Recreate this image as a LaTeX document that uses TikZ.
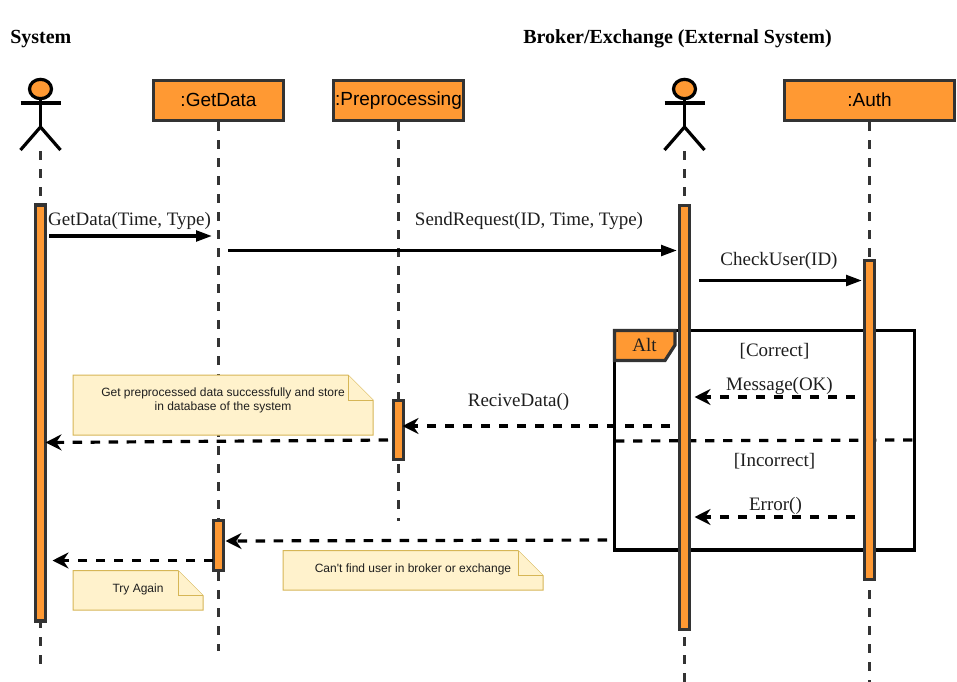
\documentclass[tikz,border=0pt]{standalone}
\usepackage{fontspec}
\setmainfont{Liberation Serif}
\newfontfamily\notefont{Liberation Sans}
\definecolor{orange}{RGB}{255,153,51}
\definecolor{gris}{RGB}{51,51,51}
\definecolor{encre}{RGB}{30,30,30}
\definecolor{noir}{RGB}{0,0,0}
\definecolor{jaune}{RGB}{255,242,204}
\definecolor{ocre}{RGB}{214,182,86}
\usetikzlibrary{arrows.meta,positioning,shapes.geometric}
\tikzset{
	lifebox/.style={draw=gris,fill=orange,line width=2.4pt,minimum height=30pt,inner sep=0pt,font=\notefont\fontsize{14.25}{16}\selectfont},
	lifeline/.style={draw=gris,line width=2.4pt,dash pattern=on 6.5pt off 7pt},
	activebar/.style={draw=gris,fill=orange,line width=2.4pt,minimum width=7.5pt,inner sep=0pt},
	callmsg/.style={draw=noir,line width=2.4pt,-{Triangle[length=12pt,width=8pt]}},
	backmsg/.style={draw=noir,line width=2.4pt,dash pattern=on 7pt off 6.5pt,-{Stealth[length=12pt,width=12pt,inset=4pt]}},
	msglabel/.style={font=\fontsize{14.25}{16}\selectfont,text=encre,inner sep=0pt},
	titlelabel/.style={font=\bfseries\fontsize{15}{18}\selectfont,text=noir,inner sep=0pt},
	notelabel/.style={font=\notefont\fontsize{9}{10.5}\selectfont,text=encre,inner sep=0pt,align=center},
	notesheet/.style={draw=ocre,fill=jaune,line width=0.75pt,line join=miter},
	actorline/.style={draw=noir,line width=2.4pt},
}
% x1, y1, x2, y2 of a folded note
\newcommand{\notepaper}[4]{
	\draw[notesheet] (#1,#2)--({#3-25},#2)--(#3,{#2+25})--(#3,#4)--(#1,#4)--cycle;
	\draw[notesheet] ({#3-25},#2)--({#3-25},{#2+25})--(#3,{#2+25});
}
% name, x
\newcommand{\stickman}[2]{
	\node[draw=noir,fill=orange,line width=2.4pt,ellipse,minimum width=16.5pt,minimum height=14.5pt,inner sep=0pt] (#1head) at (#2,89) {};
	\draw[actorline] ({#2-20},103)--({#2+20},103);
	\draw[actorline] (#1head)--(#2,127) coordinate (#1hip);
	\draw[actorline] ({#2-20},150)--(#1hip)--({#2+20},150);
	\coordinate (#1foot) at (#2,151);
}

\begin{document}
\begin{tikzpicture}[x=0.75pt,y=-0.75pt]
	\useasboundingbox (0,0) rectangle (957,682);
	
	\node[titlelabel,anchor=west] (titlesystem) at (10,39) {System};
	\node[titlelabel,anchor=west] (titlebroker) at (523,39) {Broker/Exchange (External System)};
	
	\stickman{system}{40.5}
	\stickman{broker}{684.5}
	\node[lifebox,minimum width=97.5pt] (getdata) at (218.5,100.5) {\raisebox{1pt}{:GetData}};
	\node[lifebox,minimum width=97.5pt] (preprocessing) at (398.5,100.5) {\raisebox{0.5pt}{:Preprocessing}};
	\node[lifebox,minimum width=127pt] (auth) at (869.5,100.5) {\raisebox{1pt}{:Auth}};
	
	\coordinate (systemend) at (40.5,665);
	\coordinate (getdataend) at (218.5,651);
	\coordinate (preprocessingend) at (398.5,521);
	\coordinate (brokerend) at (684.5,682);
	\coordinate (authend) at (869.5,682);
	\draw[lifeline] (systemfoot)--(systemend);
	\draw[lifeline] (getdata)--(getdataend);
	\draw[lifeline] (preprocessing)--(preprocessingend);
	\draw[lifeline] (brokerfoot)--(brokerend);
	\draw[lifeline] (auth)--(authend);
	
	% alt frame
	\draw[draw=noir,line width=2.4pt] (614.5,330.5) rectangle (914.5,550);
	\draw[draw=gris,fill=orange,line width=2.4pt] (614.5,330.5)--(675,330.5)--(675,345)--(665,360.5)--(614.5,360.5)--cycle;
	\node[msglabel] (altlabel) at (644.5,345) {Alt};
	\coordinate (divleft) at (615,441);
	\coordinate (divright) at (913,440);
	\draw[backmsg,-] (divleft)--(divright);
	
	% activation bars
	\node[activebar,minimum height=312pt] (barsystem) at (40.5,413) {};
	\node[activebar,minimum height=318pt] (barbroker) at (684.5,417.5) {};
	\node[activebar,minimum height=239.5pt] (barauth) at (869.5,420) {};
	\node[activebar,minimum height=44.5pt] (barpre) at (398.5,430) {};
	\node[activebar,minimum height=37pt] (bargetdata) at (218.5,545.5) {};
	
	\coordinate (gd1) at (49,236);
	\coordinate (gd2) at (212,236);
	\coordinate (sr1) at (228,250.5);
	\coordinate (sr2) at (677,250.5);
	\coordinate (cu1) at (699,280.5);
	\coordinate (cu2) at (862,280.5);
	\coordinate (ok1) at (855,397);
	\coordinate (ok2) at (694.5,397);
	\coordinate (er1) at (855,517);
	\coordinate (er2) at (694.5,517);
	\coordinate (rd1) at (670,426);
	\coordinate (rd2) at (402.5,426);
	\coordinate (st1) at (388,440);
	\coordinate (st2) at (45.5,442.5);
	\coordinate (nf1) at (607,540);
	\coordinate (nf2) at (225.5,541);
	\coordinate (ta1) at (213,560.5);
	\coordinate (ta2) at (52.5,560.5);
	
	% notes
	\notepaper{73}{375}{373}{435}
	\node[notelabel] (notestore) at (223,400.5) {Get preprocessed data successfully and store\\in database of the system};
	\notepaper{283}{550.5}{543}{590}
	\node[notelabel] (notefind) at (413,569.5) {Can't find user in broker or exchange};
	\notepaper{73}{570.5}{203}{610}
	\node[notelabel] (noteagain) at (138,589.5) {Try Again};
	
	\draw[callmsg] (gd1)--(gd2);
	\draw[callmsg] (sr1)--(sr2);
	\draw[callmsg] (cu1)--(cu2);
	\draw[backmsg] (ok1)--(ok2);
	\draw[backmsg] (er1)--(er2);
	\draw[backmsg] (rd1)--(rd2);
	\draw[backmsg] (st1)--(st2);
	\draw[backmsg] (nf1)--(nf2);
	\draw[backmsg] (ta1)--(ta2);
	
	\node[msglabel] at (129.5,220.5) {GetData(Time, Type)};
	\node[msglabel] at (529,220.5) {SendRequest(ID, Time, Type)};
	\node[msglabel] at (779,260.5) {CheckUser(ID)};
	\node[msglabel] at (774.5,351.5) {[Correct]};
	\node[msglabel] at (779.5,386) {Message(OK)};
	\node[msglabel] at (518.5,401.5) {ReciveData()};
	\node[msglabel] at (774.5,461.5) {[Incorrect]};
	\node[msglabel] at (775.5,505.5) {Error()};
\end{tikzpicture}
\end{document}
